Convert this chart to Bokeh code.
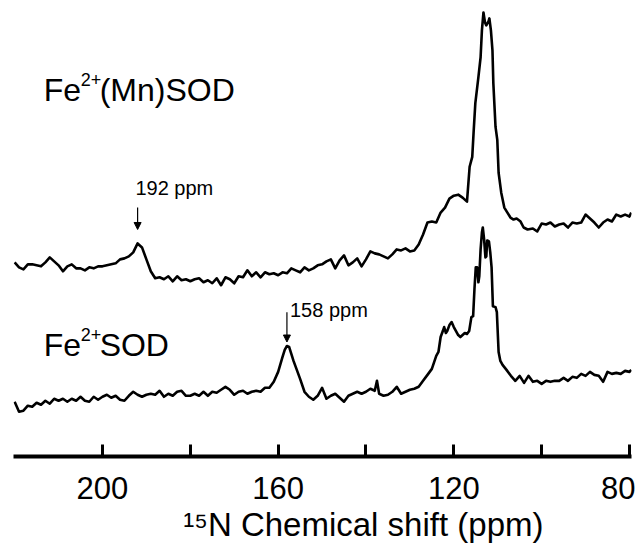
from bokeh.plotting import figure
from bokeh.models import Range1d, FixedTicker, Label, Arrow, NormalHead, LinearAxis
from bokeh.embed import file_html
from bokeh.resources import INLINE

# ---------------- data ----------------
# Fe2+(Mn)SOD spectrum (upper trace)
shift_mn = [220, 219, 218, 217, 216, 215, 214, 213, 212, 211, 210, 209, 208, 207, 206, 205,
            204, 203, 202, 201, 200, 199, 198, 197, 196, 195, 194, 193, 192, 191, 190, 189,
            188, 187, 186, 185, 184, 183, 182, 181, 180, 179, 178, 177, 176, 175, 174, 173,
            172, 171, 170, 169, 168, 167, 166, 165, 164, 163, 162, 161, 160, 159, 158, 157,
            156, 155, 154, 153, 152, 151, 150, 149, 148, 147, 146, 145, 144, 143, 142, 141,
            140, 139, 138, 137, 136, 135, 134, 133, 132, 131, 130, 129, 128, 127, 126, 125,
            124, 123, 122, 121, 120, 119, 118, 117,
            116.4, 115.8, 115.5, 115.1, 114.4, 113.9, 113.6, 113.25, 112.9, 112.6, 112.1,
            111.9, 111.55, 111.2, 111.0, 110.5, 110.1, 109.8, 109.2, 108.5, 107.8, 107.1,
            106.4, 105.7, 104.8, 104.1, 103.2,
            102, 101, 100, 99, 98, 97, 96, 95, 94, 93, 92, 91, 90, 89, 88, 87, 86, 85, 84,
            83, 82, 81, 80, 79.6]
intensity_mn = [195, 190, 188, 193, 193, 192, 191, 195, 200, 196, 192, 186, 191, 193, 189, 189,
                187, 190, 189, 191, 191, 192, 193, 194, 198, 199, 201, 205, 214, 210, 198, 186,
                179, 180, 178, 181, 176, 181, 177, 178, 176, 178, 179, 175, 177, 174, 179, 172,
                180, 178, 174, 181, 180, 187, 181, 185, 180, 185, 183, 184, 182, 185, 184, 189,
                187, 185, 190, 187, 189, 192, 193, 196, 198, 189, 197, 202, 192, 195, 199, 191,
                198, 206, 204, 203, 201, 199, 203, 208, 207, 209, 206, 207, 213, 223, 235, 236,
                235, 245, 250, 259, 262, 263, 260, 256,
                291, 301, 325, 355, 381, 401, 428, 446, 436, 433, 437,
                440, 428, 408, 375, 331, 318, 285, 265, 250, 245, 240,
                238, 239, 236, 230, 228,
                229, 226, 234, 233, 235, 231, 233, 234, 230, 235, 234, 235, 243, 239, 235, 230,
                235, 238, 236, 243, 241, 243, 241, 245]

# Fe2+SOD spectrum (lower trace)
shift_fe = [220, 219, 218, 217, 216, 215, 214, 213, 212, 211, 210, 209, 208, 207, 206, 205,
            204, 203, 202, 201, 200, 199, 198, 197, 196, 195, 194, 193, 192, 191, 190, 189,
            188, 187, 186, 185, 184, 183, 182, 181, 180, 179, 178, 177, 176, 175, 174, 173,
            172, 171, 170, 169, 168, 167, 166, 165, 164, 163, 162, 161, 160, 159, 158.5, 158,
            157.5, 157, 156.5, 156, 155, 154, 153, 152, 151, 150, 149, 148, 147, 146, 145,
            144, 143, 142, 141, 140, 139, 138, 137.5, 137, 136, 135, 134, 133, 132, 131, 130,
            129, 128, 127, 126, 125, 124, 123.5, 123, 122.5, 122.2, 121.8, 121.5, 121, 120.5,
            120, 119.5, 119, 118.5, 118, 117.5, 117, 116.5, 116, 115.6, 115.3, 115.0, 114.7,
            114.4, 114.2, 113.9, 113.6, 113.4, 113.1, 112.8, 112.6, 112.4, 112.0, 111.7,
            111.4, 111.1, 110.5, 110.2, 109.8, 109.4, 108.9, 108, 107, 106, 105, 104, 103,
            102, 101, 100, 99, 98, 97, 96, 95, 94, 93, 92, 91, 90, 89, 88, 87, 86, 85, 84,
            83, 82, 81, 80, 79.6]
intensity_fe = [55, 45, 46, 51, 50, 54, 52, 56, 53, 58, 56, 58, 55, 58, 56, 60,
                56, 55, 60, 57, 60, 62, 59, 61, 57, 56, 61, 65, 62, 60, 62, 63,
                62, 66, 60, 63, 61, 65, 66, 61, 61, 63, 61, 65, 61, 65, 64, 67,
                70, 67, 62, 65, 66, 63, 65, 66, 65, 69, 69, 75, 85, 100, 107, 111,
                110, 103, 96, 90, 78, 65, 60, 57, 61, 69, 58, 61, 63, 59, 55,
                61, 63, 65, 63, 65, 68, 66, 76, 63, 61, 62, 65, 70, 63, 65, 67,
                68, 70, 76, 82, 88, 101, 105, 120, 126, 130, 124, 126, 132, 135,
                130, 126, 122, 120, 122, 124, 123, 126, 140, 141, 168, 190, 190,
                175, 181, 208, 225, 230, 218, 200, 201, 217, 216, 205,
                190, 151, 150, 145, 105, 96, 92, 87, 81, 76, 81, 74, 81,
                75, 76, 73, 76, 75, 76, 76, 79, 76, 80, 79, 83, 81, 85, 82, 81, 75, 85, 83,
                84, 83, 86, 85, 87]

tick_values = [200, 180, 160, 140, 120, 100, 80]
tick_labels = {200: "200", 180: "", 160: "160", 140: "", 120: "120", 100: "", 80: "80"}
axis_title = "\u00b9\u2075N Chemical shift (ppm)"
axis_title_at = 140.6   # ppm position the axis title is centred on

# peak annotations: (shift, arrow top, arrow tip, text)
peak_marks = [(192, 250, 228, "192 ppm"), (158, 145, 115, "158 ppm")]

FONT = "Liberation Sans"

# ---------------- figure ----------------
p = figure(width=635, height=545, output_backend="svg", toolbar_location=None,
           x_range=Range1d(220.26, 79.54), y_range=Range1d(0, 458),
           y_axis_location=None, min_border_left=13, min_border_right=4,
           min_border_top=0, min_border_bottom=87)
p.outline_line_color = None
p.grid.visible = False
p.background_fill_color = "white"
p.border_fill_color = "white"

p.line(shift_mn, intensity_mn, line_width=2.6, color="black", line_join="round")
p.line(shift_fe, intensity_fe, line_width=2.6, color="black", line_join="round")

ax = p.xaxis[0]
ax.ticker = FixedTicker(ticks=tick_values, minor_ticks=[])
ax.major_label_overrides = tick_labels
ax.axis_line_width = 4
ax.axis_line_color = "black"
ax.major_tick_line_width = 3
ax.major_tick_line_color = "black"
ax.major_tick_in = 12
ax.major_tick_out = 0
ax.minor_tick_line_color = None
ax.major_label_standoff = 20
ax.major_label_text_font = FONT
ax.major_label_text_font_size = "31px"
ax.major_label_text_color = "black"

# axis title, carried by a second (line-less) axis placed below the first
title_axis = LinearAxis(ticker=FixedTicker(ticks=[axis_title_at], minor_ticks=[]),
                        major_label_overrides={axis_title_at: axis_title},
                        axis_line_color=None, major_tick_line_color=None,
                        minor_tick_line_color=None, major_tick_in=0, major_tick_out=0,
                        major_label_standoff=4, major_label_text_font=FONT,
                        major_label_text_font_size="33px", major_label_text_color="black")
p.add_layout(title_axis, "below")

# sample labels
for base_y, rest in [(368, "(Mn)SOD"), (112, "SOD")]:
    p.add_layout(Label(x=213.4, y=base_y, text="Fe", text_font=FONT, text_font_size="32px",
                       text_baseline="alphabetic", text_color="black"))
    p.add_layout(Label(x=213.4, y=base_y + 11, x_offset=37, text="2+", text_font=FONT,
                       text_font_size="18px", text_baseline="alphabetic", text_color="black"))
    p.add_layout(Label(x=213.4, y=base_y, x_offset=56, text=rest, text_font=FONT,
                       text_font_size="32px", text_baseline="alphabetic", text_color="black"))

# peak arrows and labels
for sx, ytop, ytip, txt in peak_marks:
    p.add_layout(Arrow(x_start=sx, y_start=ytop, x_end=sx, y_end=ytip, line_width=1.2,
                       line_color="black",
                       end=NormalHead(size=7, fill_color="black", line_color="black")))
p.add_layout(Label(x=192.5, y=270, text=peak_marks[0][3], text_font=FONT, text_font_size="20px",
                   text_baseline="alphabetic", text_color="black"))
p.add_layout(Label(x=157.3, y=147, text=peak_marks[1][3], text_font=FONT, text_font_size="20px",
                   text_baseline="alphabetic", text_color="black"))

open("out.html", "w").write(file_html(p, INLINE))
